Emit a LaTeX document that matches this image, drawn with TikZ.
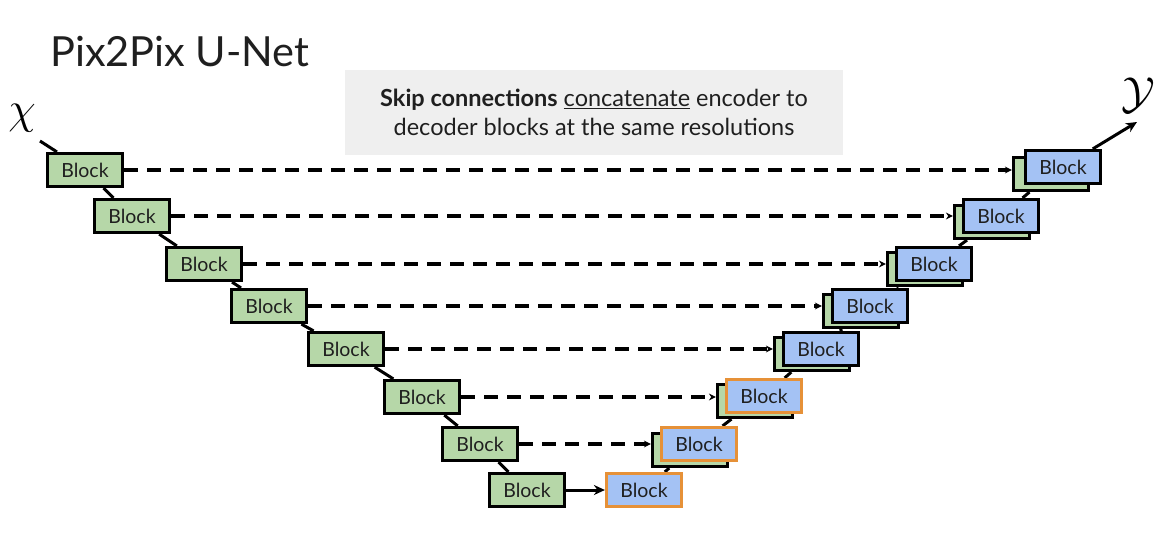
\documentclass[tikz,border=0pt]{standalone}
\usepackage{fontspec}
\setmainfont{Lato}
\usetikzlibrary{arrows.meta,calc}
\pgfdeclarelayer{bg}
\pgfsetlayers{bg,main}
\definecolor{blkgreen}{HTML}{B6D7A8}
\definecolor{blkblue}{HTML}{A4C2F4}
\definecolor{blkorange}{HTML}{E69138}
\definecolor{notegray}{HTML}{EFEFEF}
\definecolor{inkc}{HTML}{1F1F1F}
\tikzset{
  blockbox/.style={draw=black, line width=3.2pt, minimum width=75pt, minimum height=33pt,
    inner sep=0pt, font=\fontsize{19.5}{22}\selectfont, text=inkc},
  encblk/.style={blockbox, fill=blkgreen},
  decblk/.style={blockbox, fill=blkblue},
  midblk/.style={decblk, draw=blkorange},
  backblk/.style={blockbox, fill=blkgreen},
  skiparrow/.style={line width=3.2pt, dash pattern=on 14pt off 9pt, -{Stealth[length=7pt,width=7pt]}},
  linkline/.style={line width=3pt},
}
\begin{document}
\begin{tikzpicture}[x=1pt,y=-1pt]
\useasboundingbox (0,0) rectangle (1166,555);
% title
\node[anchor=west, font=\fontsize{41.5}{48}\selectfont, text=inkc, inner sep=0pt] (title) at (50,52) {Pix2Pix U-Net};
% note
\node[fill=notegray, minimum width=498pt, minimum height=85pt, inner sep=0pt, align=center,
  font=\fontsize{23.5}{29}\selectfont, text=inkc] (note) at (594,112.5)
  {\textbf{Skip connections} \underline{concatenate} encoder to\\decoder blocks at the same resolutions};
% encoder
\node[encblk] (e1) at (85,170) {Block};
\node[encblk] (e2) at (132,216) {Block};
\node[encblk] (e3) at (204,264) {Block};
\node[encblk] (e4) at (269,306) {Block};
\node[encblk] (e5) at (346,349) {Block};
\node[encblk] (e6) at (422,397) {Block};
\node[encblk] (e7) at (480,444) {Block};
\node[encblk] (e8) at (527,490) {Block};
% decoder
\node[backblk] (g1) at (1051,174) {};
\node[decblk] (d1) at (1063,167) {Block};
\node[backblk] (g2) at (992,222) {};
\node[decblk] (d2) at (1001,216) {Block};
\node[backblk] (g3) at (925,269) {};
\node[decblk] (d3) at (934,264) {Block};
\node[backblk] (g4) at (861,311) {};
\node[decblk] (d4) at (870,306) {Block};
\node[backblk] (g5) at (812,354) {};
\node[decblk] (d5) at (821,349) {Block};
\node[backblk] (g6) at (755,401) {};
\node[midblk] (d6) at (764,396) {Block};
\node[backblk] (g7) at (690,450) {};
\node[midblk] (d7) at (699,444) {Block};
\node[midblk] (d8) at (644,490) {Block};
% labels
\node[scale=1.8, font=\Huge] (xlab) at (22,118) {$\chi$};
\node[scale=1.8, font=\Huge] (ylab) at (1138,95) {$\mathcal{Y}$};
\coordinate (xin) at (40,141);
\coordinate (yout) at (1137,122);
% skip connections
\foreach \i in {1,...,7}{
  \draw[skiparrow] (e\i.east) -- (e\i.east -| g\i.west);
}
\draw[line width=3pt, -{Stealth[length=11pt,width=10pt]}] (e8.east) -- (d8.west);
% links
\begin{pgfonlayer}{bg}
\draw[linkline] (xin) -- (e1);
\foreach \i/\j in {1/2,2/3,3/4,4/5,5/6,6/7,7/8}{
  \draw[linkline] (e\i) -- (e\j);
}
\draw[linkline] (d8) -- (g7);
\draw[linkline] (d7) -- (g6);
\draw[linkline] (d6) -- (g5);
\draw[linkline] (d5) -- (g4);
\draw[linkline] (d4) -- (g3);
\draw[linkline] (d3) -- (g2);
\draw[linkline] (d2) -- (g1);
\draw[linkline, -{Stealth[length=11pt,width=10pt]}] (d1) -- (yout);
\end{pgfonlayer}
\end{tikzpicture}
\end{document}
